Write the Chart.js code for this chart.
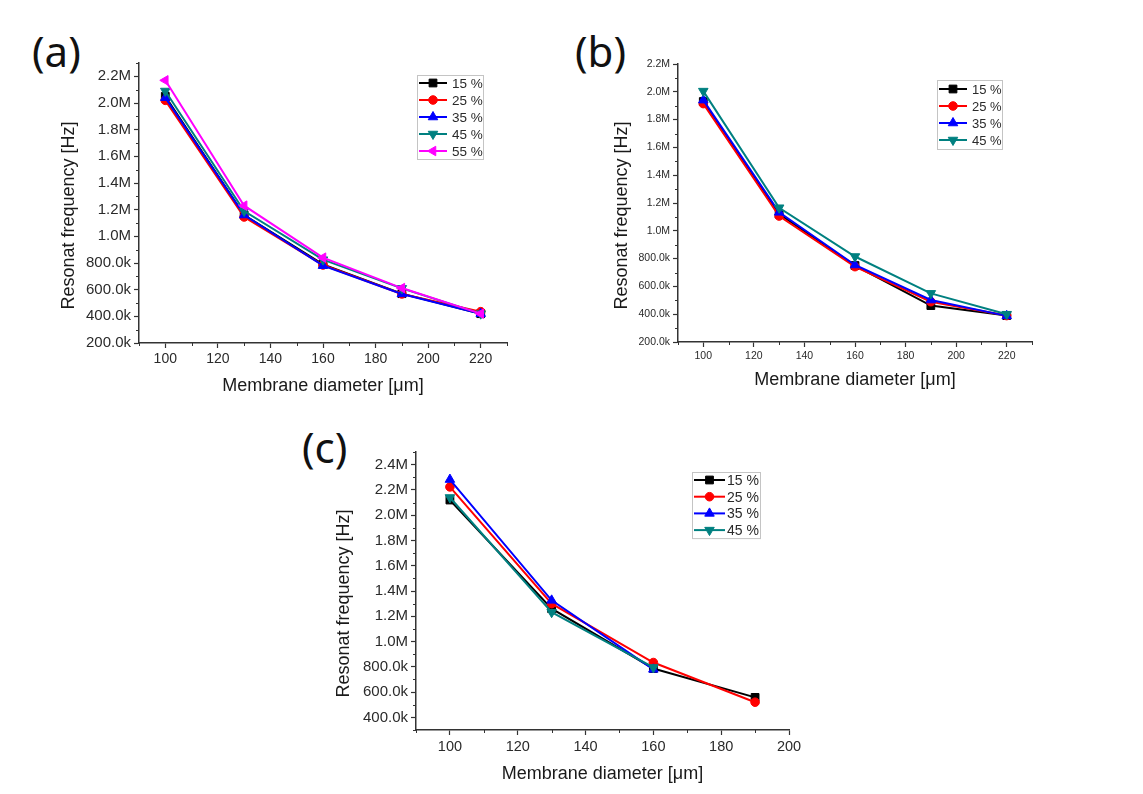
<!DOCTYPE html>
<html>
<head>
<meta charset="utf-8">
<title>Resonat frequency vs membrane diameter</title>
<script src="https://cdn.jsdelivr.net/npm/chart.js"></script>
<style>
  body { margin: 0; background: #fff; width: 1143px; height: 794px; position: relative; overflow: hidden; }
  canvas { position: absolute; }
  .tag { position: absolute; font-family: "Noto Sans", sans-serif; font-size: 42px; line-height: 42px; color: #111; }
</style>
</head>
<body>
<div class="tag" style="left:32px;top:30px">(a)</div>
<div class="tag" style="left:575px;top:30px">(b)</div>
<div class="tag" style="left:302px;top:426px">(c)</div>
<canvas id="chartA" width="470" height="360" style="left:50px;top:50px"></canvas>
<canvas id="chartB" width="460" height="350" style="left:590px;top:50px"></canvas>
<canvas id="chartC" width="500" height="354" style="left:320px;top:440px"></canvas>
<script>
// membrane diameters [um]
var diameters = [100, 130, 160, 190, 220];
var labels = ['15 %', '25 %', '35 %', '45 %', '55 %'];
var colors = ['#000000', '#ff0000', '#0000ff', '#008080', '#ff00ff'];
var markers = ['rect', 'circle', 'triangle', 'triangle', 'triangle'];
var markerRot = [0, 0, 0, 180, -90];
var markerSize = [5.5, 4.3, 5.5, 5.5, 5.5];

// (a) resonant frequency [Hz]
var a15 = [2050000, 1160000, 790000, 570000, 420000];
var a25 = [2020000, 1145000, 785000, 568000, 435000];
var a35 = [2040000, 1160000, 780000, 568000, 420000];
var a45 = [2090000, 1190000, 825000, 610000, 420000];
var a55 = [2170000, 1230000, 840000, 612000, 420000];

// (b)
var b15 = [1930000, 1120000, 750000, 462000, 390000];
var b25 = [1915000, 1106000, 742000, 490000, 390000];
var b35 = [1940000, 1133000, 754000, 502000, 388000];
var b45 = [2005000, 1166000, 815000, 550000, 400000];

// (c) 35 % and 45 % stop at 160 um
var c15 = [2120000, 1260000, 787000, 558000];
var c25 = [2224000, 1300000, 834000, 520000];
var c35 = [2282000, 1326000, 780000];
var c45 = [2140000, 1232000, 795000];

// tick labels
var xTicksAB = [100, 120, 140, 160, 180, 200, 220];
var xTicksC = [100, 120, 140, 160, 180, 200];
var yTicksAB = [200000, 400000, 600000, 800000, 1000000, 1200000, 1400000, 1600000, 1800000, 2000000, 2200000];
var yTicksC = [400000, 600000, 800000, 1000000, 1200000, 1400000, 1600000, 1800000, 2000000, 2200000, 2400000];

function fmtHz(v) {
  return v >= 1000000 ? (v / 1000000).toFixed(1) + 'M' : (v / 1000).toFixed(1) + 'k';
}

function makeSets(list) {
  return list.map(function(vals, i) {
    return {
      label: labels[i],
      data: vals.map(function(v, j) { return {x: diameters[j], y: v}; }),
      borderColor: colors[i],
      backgroundColor: colors[i],
      pointBackgroundColor: colors[i],
      pointBorderColor: colors[i],
      pointStyle: markers[i],
      rotation: markerRot[i],
      pointRadius: markerSize[i],
      pointBorderWidth: 1,
      borderWidth: 2,
      order: -i
    };
  });
}

// legend drawn inside the plot, Origin style
var boxLegend = {
  id: 'boxLegend',
  afterDatasetsDraw: function(chart, args, o) {
    var ctx = chart.ctx, ca = chart.chartArea, ds = chart.data.datasets;
    var x0 = ca.right - o.right - o.width, y0 = ca.top + o.top;
    var h = o.first * 2 + (ds.length - 1) * o.row;
    ctx.save();
    ctx.strokeStyle = '#c4c4c4';
    ctx.lineWidth = 1;
    ctx.strokeRect(Math.round(x0) + 0.5, Math.round(y0) + 0.5, o.width, h);
    ds.forEach(function(d, i) {
      var y = y0 + o.first + i * o.row;
      ctx.strokeStyle = d.borderColor;
      ctx.fillStyle = d.borderColor;
      ctx.lineWidth = 2;
      ctx.beginPath();
      ctx.moveTo(x0 + 2, y);
      ctx.lineTo(x0 + 2 + o.line, y);
      ctx.stroke();
      ctx.lineWidth = 1;
      Chart.helpers.drawPoint(ctx, {pointStyle: d.pointStyle, rotation: d.rotation, radius: d.pointRadius, borderWidth: 1}, x0 + 2 + o.line / 2, y);
      ctx.fillStyle = '#2a2a2a';
      ctx.font = o.size + 'px "Liberation Sans", Arial, sans-serif';
      ctx.textBaseline = 'middle';
      ctx.textAlign = 'left';
      ctx.fillText(d.label, x0 + o.text, y + 1);
    });
    ctx.restore();
  }
};

var minorTicks = {
  id: 'minorTicks',
  afterDraw: function(chart, args, o) {
    var ctx = chart.ctx, sx = chart.scales.x, sy = chart.scales.y;
    ctx.save();
    ctx.strokeStyle = '#333';
    ctx.lineWidth = 1;
    var v, p;
    for (v = sx.min; v <= sx.max + 1e-6; v += o.x) {
      if (sx.ticks.some(function(t) { return t.value === v; })) continue;
      p = Math.round(sx.getPixelForValue(v)) + 0.5;
      ctx.beginPath(); ctx.moveTo(p, sx.top); ctx.lineTo(p, sx.top + 3); ctx.stroke();
    }
    for (v = sy.min; v <= sy.max + 1; v += o.y) {
      if (sy.ticks.some(function(t) { return t.value === v; })) continue;
      p = Math.round(sy.getPixelForValue(v)) + 0.5;
      ctx.beginPath(); ctx.moveTo(sy.right, p); ctx.lineTo(sy.right - 3, p); ctx.stroke();
    }
    ctx.restore();
  }
};

var yTitle = 'Resonat frequency [Hz]\u00a0\u00a0\u00a0\u00a0\u00a0';
var xTitle = 'Membrane diameter [\u03bcm]';

function create(id, sets, p) {
  return new Chart(document.getElementById(id), {
    type: 'line',
    data: {datasets: sets},
    plugins: [boxLegend, minorTicks],
    options: {
      responsive: false,
      animation: false,
      layout: {padding: {top: p.padTop, right: p.padRight, left: 0, bottom: 0}},
      plugins: {
        legend: {display: false},
        tooltip: {enabled: false},
        boxLegend: p.legend,
        minorTicks: {x: 10, y: 100000}
      },
      scales: {
        x: {
          type: 'linear',
          min: 90, max: p.xMax,
          afterBuildTicks: function(s) { s.ticks = p.xTicks.map(function(v) { return {value: v}; }); },
          afterFit: function(s) { s.height = p.xH; },
          grid: {drawOnChartArea: false, drawTicks: true, tickLength: 5, tickColor: '#333', tickWidth: 1.2},
          border: {display: true, color: '#333', width: 1.5},
          ticks: {color: '#2a2a2a', padding: 3, maxRotation: 0, autoSkip: false,
                  font: {family: '"Liberation Sans", Arial, sans-serif', size: p.xFont}},
          title: {display: true, text: xTitle, color: '#1a1a1a', padding: {top: 0, bottom: p.xTitlePad},
                  font: {family: '"Liberation Sans", Arial, sans-serif', size: 18}}
        },
        y: {
          type: 'linear',
          min: p.yMin, max: p.yMax,
          afterBuildTicks: function(s) { s.ticks = p.yTicks.map(function(v) { return {value: v}; }); },
          afterFit: function(s) { s.width = p.yW; },
          grid: {drawOnChartArea: false, drawTicks: true, tickLength: 5, tickColor: '#333', tickWidth: 1.2},
          border: {display: true, color: '#333', width: 1.5},
          ticks: {color: '#2a2a2a', padding: 3, autoSkip: false, callback: fmtHz,
                  font: {family: '"Liberation Sans", Arial, sans-serif', size: p.yFont}},
          title: {display: true, text: yTitle, color: '#1a1a1a', padding: {top: p.yTitlePad, bottom: 0},
                  font: {family: '"Liberation Sans", Arial, sans-serif', size: 18}}
        }
      }
    }
  });
}

var chartA = create('chartA', makeSets([a15, a25, a35, a45, a55]), {
  padTop: 13, padRight: 13, xH: 67, yW: 89, xMax: 230, yMin: 200000, yMax: 2300000,
  xTicks: xTicksAB, yTicks: yTicksAB, xFont: 14, yFont: 15, xTitlePad: 13, yTitlePad: 8,
  legend: {right: 24, top: 12, width: 66, first: 8, row: 17, line: 28, text: 35, size: 13.5}
});

var chartB = create('chartB', makeSets([b15, b25, b35, b45]), {
  padTop: 14, padRight: 18, xH: 58, yW: 88, xMax: 230, yMin: 200000, yMax: 2200000,
  xTicks: xTicksAB, yTicks: yTicksAB, xFont: 10.5, yFont: 10.5, xTitlePad: 9, yTitlePad: 21,
  legend: {right: 30, top: 16, width: 65, first: 9, row: 17, line: 28, text: 35, size: 13}
});

var chartC = create('chartC', makeSets([c15, c25, c35, c45]), {
  padTop: 12, padRight: 31, xH: 64, yW: 96, xMax: 200, yMin: 300000, yMax: 2500000,
  xTicks: xTicksC, yTicks: yTicksC, xFont: 14.5, yFont: 15, xTitlePad: 9, yTitlePad: 13,
  legend: {right: 29, top: 20, width: 68, first: 8, row: 16.7, line: 31, text: 35, size: 14}
});
</script>
</body>
</html>
